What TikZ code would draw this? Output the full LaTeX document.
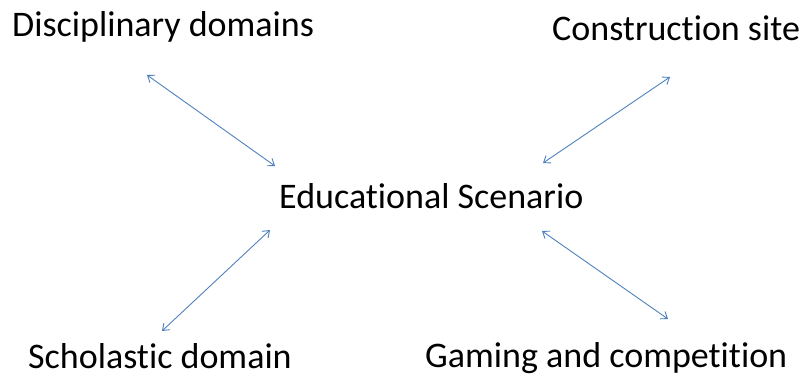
\documentclass[tikz,border=0pt]{standalone}
\usepackage{fontspec}
\setmainfont{Carlito}[Ligatures=NoCommon]
\usetikzlibrary{arrows.meta}
\definecolor{linkblue}{RGB}{79,129,189}
\begin{document}
\begin{tikzpicture}[x=1pt,y=-1pt,
  lbl/.style={inner sep=0pt,anchor=base west,font=\fontsize{36}{42}\selectfont},
  link/.style={draw=linkblue,line width=0.9pt,{Straight Barb[length=6pt,width=9pt]}-{Straight Barb[length=6pt,width=9pt]}}]
\useasboundingbox (0,0) rectangle (803,376);
\node[lbl] (disc) at (12,36) {Disciplinary domains};
\node[lbl] (cons) at (552,40) {Construction site};
\node[lbl] (edu) at (279,208) {Educational Scenario};
\node[lbl] (schol) at (28,368) {Scholastic domain};
\node[lbl] (game) at (425,367) {Gaming and competition};
\coordinate (a1) at (147,75);
\coordinate (a2) at (275,166);
\coordinate (b1) at (670,77);
\coordinate (b2) at (543,163);
\coordinate (c1) at (270,230);
\coordinate (c2) at (162,331);
\coordinate (d1) at (542,231);
\coordinate (d2) at (668,319);
\draw[link] (a1) -- (a2);
\draw[link] (b1) -- (b2);
\draw[link] (c1) -- (c2);
\draw[link] (d1) -- (d2);
\end{tikzpicture}
\end{document}
